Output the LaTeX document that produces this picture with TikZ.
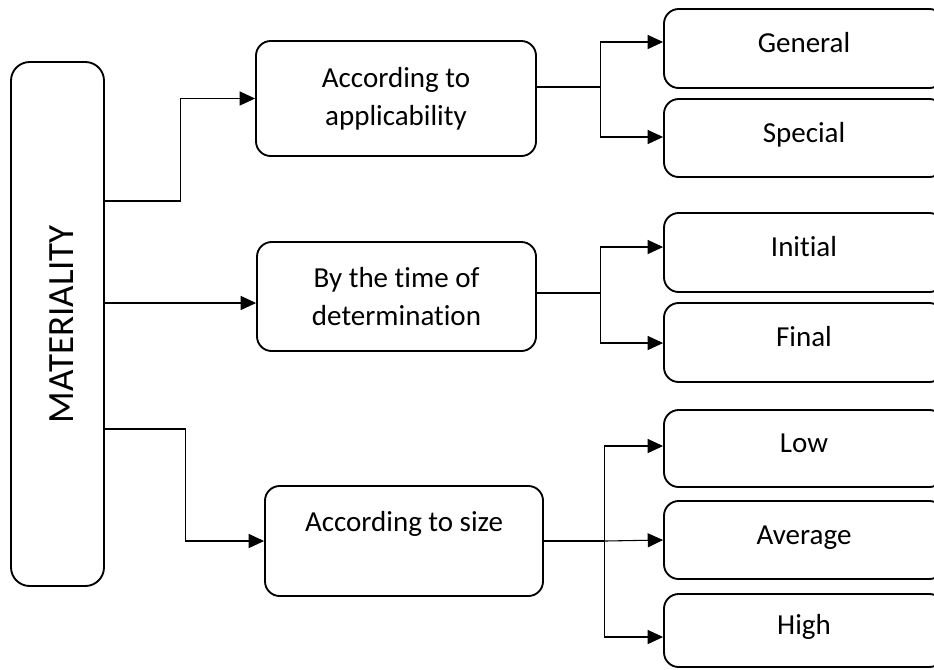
\documentclass[tikz,border=0pt]{standalone}
\usepackage{fontspec}
\setmainfont{Carlito}[RawFeature={-liga;-clig;-calt;-dlig}]
\usetikzlibrary{arrows.meta}
\begin{document}
\begin{tikzpicture}[x=0.75pt,y=-0.75pt,
  box/.style={draw, line width=1.4pt, rounded corners=11pt, inner sep=2pt,
    font=\fontsize{21.75pt}{28.5pt}\selectfont, align=center},
  leaf/.style={box, minimum width=210pt, text height=14pt, text depth=7.5pt},
  conn/.style={line width=0.8pt},
  arr/.style={line width=0.8pt, -{Triangle[length=11.5pt,width=10.5pt]}}]
\useasboundingbox (0,0) rectangle (934,669);
\clip (0,0) rectangle (934,669);
% main box
\node[box, rotate=90, minimum width=393pt, minimum height=69.75pt,
  rounded corners=14pt, text height=23.25pt, text depth=0pt,
  font=\fontsize{27.75pt}{33pt}\selectfont] (mat) at (57.5,324) {MATERIALITY};
% middle boxes
\node[box, minimum width=210pt, minimum height=86.25pt] (A) at (396,98.5) {According to\\applicability};
\node[box, minimum width=209.25pt, minimum height=81.75pt] (B) at (396.5,296.5) {By the time of\\determination};
\node[box, minimum width=208.5pt, minimum height=82.5pt, text height=14pt, text depth=28.5pt] (C) at (404,541) {According to size};
% leaves
\node[leaf, minimum height=59.25pt] (gen) at (804,48.5) {General};
\node[leaf, minimum height=58.5pt] (spe) at (804,138) {Special};
\node[leaf, minimum height=59.25pt] (ini) at (804,252.5) {Initial};
\node[leaf, minimum height=59.25pt] (fin) at (804,342.5) {Final};
\node[leaf, minimum height=57.75pt] (low) at (804,448.5) {Low};
\node[leaf, minimum height=58.5pt] (avg) at (804,540) {Average};
\node[leaf, minimum height=54.75pt] (hig) at (804,630.5) {High};
% connectors from MATERIALITY
\draw[arr] (mat.south |- 0,201) -- ++(76,0) |- (A.west);
\draw[arr] (mat.south |- 0,303) -- (B.west |- 0,303);
\draw[arr] (mat.south |- 0,429) -- ++(81,0) |- (C.west);
% applicability
\draw[conn] (A.east |- 0,87) -- ++(64,0) coordinate (ka);
\draw[arr] (ka) |- (gen.west |- 0,42);
\draw[arr] (ka) |- (spe.west |- 0,137);
% time of determination
\draw[conn] (B.east |- 0,293) -- ++(64,0) coordinate (kb);
\draw[arr] (kb) |- (ini.west |- 0,247);
\draw[arr] (kb) |- (fin.west |- 0,343);
% size
\draw[conn, line width=1.3pt] (C.east) -- ++(61,0) coordinate (kc);
\draw[arr] (kc) |- (low.west |- 0,446);
\draw[arr] (kc) -- (avg.west);
\draw[arr] (kc) |- (hig.west |- 0,637);
\end{tikzpicture}
\end{document}
